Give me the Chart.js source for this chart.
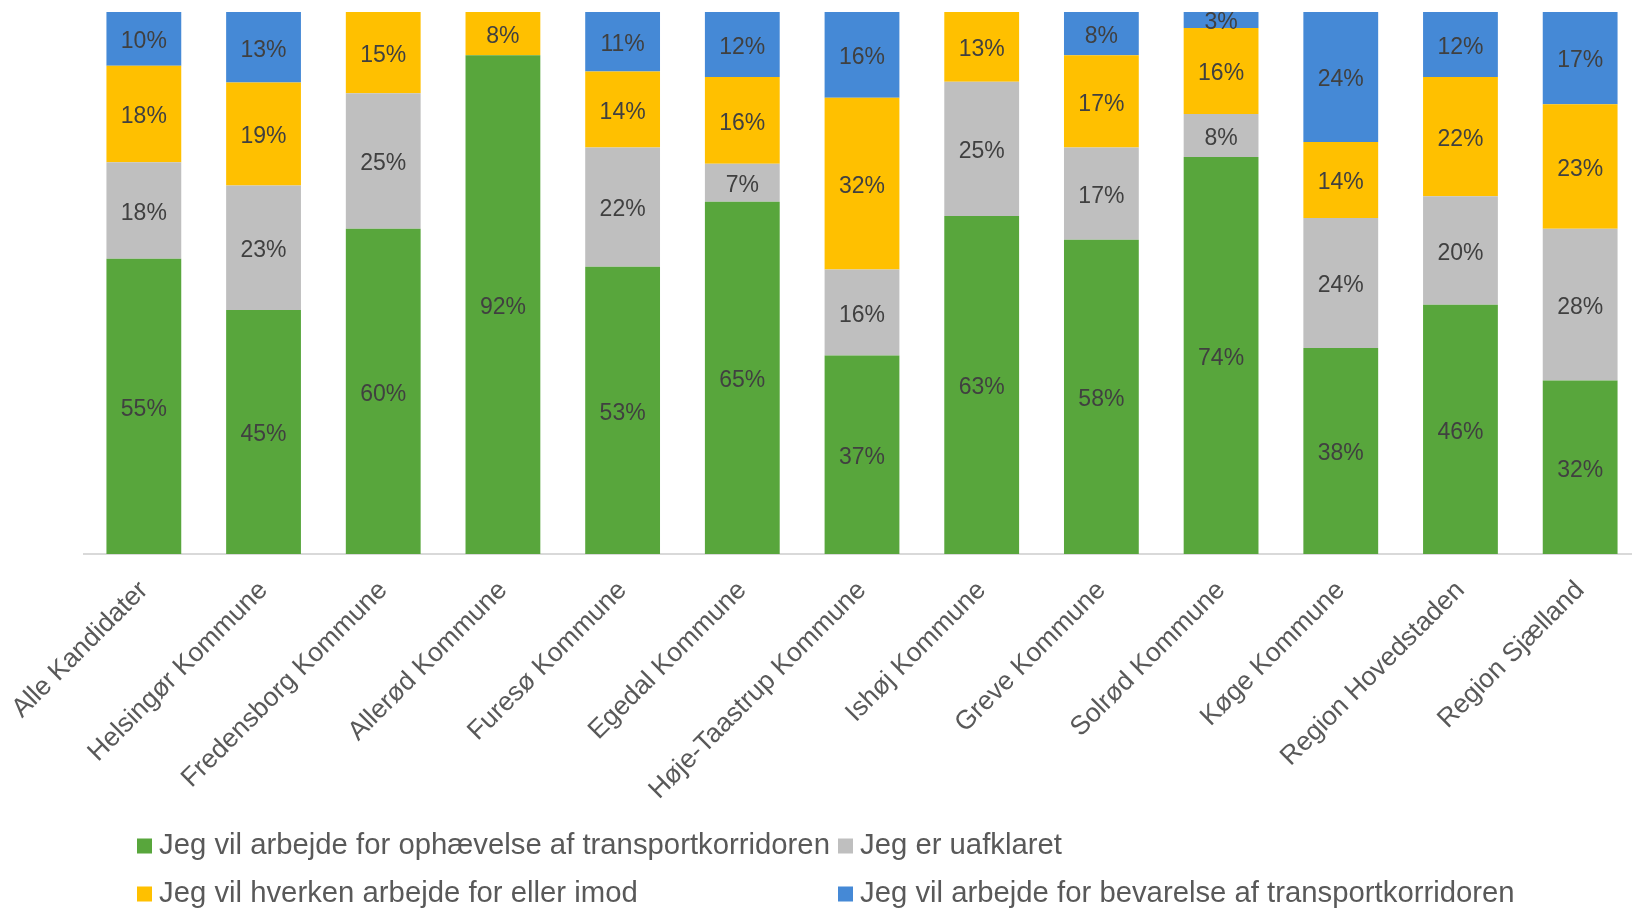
<!DOCTYPE html>
<html>
<head>
<meta charset="utf-8">
<script src="https://cdn.jsdelivr.net/npm/chart.js@4"></script>
<style>
  html, body { margin: 0; padding: 0; background: #fff; overflow: hidden; }
  #wrap { width: 1640px; height: 908px; }
</style>
</head>
<body>
<div id="wrap"><canvas id="myChart" width="1640" height="908"></canvas></div>
<script>
const categories = ['Alle Kandidater', 'Helsingør Kommune', 'Fredensborg Kommune', 'Allerød Kommune',
  'Furesø Kommune', 'Egedal Kommune', 'Høje-Taastrup Kommune', 'Ishøj Kommune', 'Greve Kommune',
  'Solrød Kommune', 'Køge Kommune', 'Region Hovedstaden', 'Region Sjælland'];

const seriesNames = ['Jeg vil arbejde for ophævelse af transportkorridoren', 'Jeg er uafklaret',
  'Jeg vil hverken arbejde for eller imod', 'Jeg vil arbejde for bevarelse af transportkorridoren'];

// percentages as printed on the bars
const ophaevelse = [55, 45, 60, 92, 53, 65, 37, 63, 58, 74, 38, 46, 32];
const uafklaret  = [18, 23, 25, 0, 22, 7, 16, 25, 17, 8, 24, 20, 28];
const hverken    = [18, 19, 15, 8, 14, 16, 32, 13, 17, 16, 14, 22, 23];
const bevarelse  = [10, 13, 0, 0, 11, 12, 16, 0, 8, 3, 24, 12, 17];

const colors = ['#58a63c', '#bfbfbf', '#ffc000', '#4589d6'];
const font = '"Liberation Sans", Arial, sans-serif';

const series = [ophaevelse, uafklaret, hverken, bevarelse];
// bars are 100% stacked, so scale each column to its total
const totals = categories.map((c, i) => series.reduce((s, arr) => s + arr[i], 0));

const ctx = document.getElementById('myChart').getContext('2d');

const barLabels = {
  id: 'barLabels',
  afterDatasetsDraw(chart) {
    const c = chart.ctx;
    c.save();
    c.font = '23px ' + font;
    c.fillStyle = '#404040';
    c.textAlign = 'center';
    c.textBaseline = 'middle';
    chart.data.datasets.forEach((ds, di) => {
      const meta = chart.getDatasetMeta(di);
      meta.data.forEach((bar, i) => {
        const v = ds.raw[i];
        if (!v) return;
        c.fillText(v + '%', bar.x, (bar.y + bar.base) / 2 + 3);
      });
    });
    c.restore();
  }
};

const gridLegend = {
  id: 'gridLegend',
  afterDraw(chart) {
    const c = chart.ctx;
    const colX = [137, 838];
    const rowY = [846, 894];
    c.save();
    c.font = '29.3px ' + font;
    c.textBaseline = 'middle';
    c.textAlign = 'left';
    chart.data.datasets.forEach((ds, i) => {
      const x = colX[i % 2];
      const y = rowY[Math.floor(i / 2)];
      c.fillStyle = ds.backgroundColor;
      c.fillRect(x, y - 7.5, 15, 15);
      c.fillStyle = '#595959';
      c.fillText(ds.label, x + 22, y);
    });
    c.restore();
  }
};

new Chart(ctx, {
  type: 'bar',
  data: {
    labels: categories,
    datasets: series.map((arr, k) => ({
      label: seriesNames[k],
      raw: arr,
      data: arr.map((v, i) => v / totals[i] * 100),
      backgroundColor: colors[k],
      borderWidth: 0,
      barPercentage: 0.625,
      categoryPercentage: 1
    }))
  },
  options: {
    responsive: false,
    animation: false,
    layout: { padding: { left: 84, top: 12, right: 0, bottom: 94 } },
    plugins: { legend: { display: false }, tooltip: { enabled: false } },
    scales: {
      x: {
        stacked: true,
        grid: { display: false },
        border: { display: true, color: '#d9d9d9', width: 2 },
        ticks: {
          autoSkip: false, maxRotation: 45, minRotation: 45,
          color: '#595959', font: { family: font, size: 26.5 }, padding: 13
        },
        afterFit(scale) { scale.height = 260; }
      },
      y: { stacked: true, display: false, min: 0, max: 100 }
    }
  },
  plugins: [barLabels, gridLegend]
});
</script>
</body>
</html>
